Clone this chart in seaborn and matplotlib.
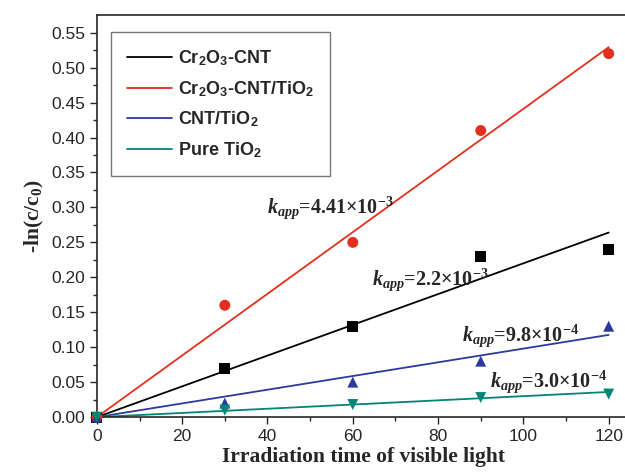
import matplotlib

matplotlib.use("Agg")
import matplotlib.pyplot as plt
import numpy as np
import pandas as pd
import seaborn as sns

# measured -ln(c/c0) values
TIMES = [0, 30, 60, 90, 120]
CR2O3_CNT = [0.0, 0.07, 0.13, 0.23, 0.24]
CR2O3_CNT_TIO2 = [0.0, 0.16, 0.25, 0.41, 0.52]
CNT_TIO2 = [0.0, 0.02, 0.05, 0.08, 0.13]
PURE_TIO2 = [0.0, 0.01, 0.018, 0.028, 0.033]

SERIES = ["Cr2O3-CNT", "Cr2O3-CNT/TiO2", "CNT/TiO2", "Pure TiO2"]
LEGEND_LABELS = [
    r"Cr$_\mathsf{2}$O$_\mathsf{3}$-CNT",
    r"Cr$_\mathsf{2}$O$_\mathsf{3}$-CNT/TiO$_\mathsf{2}$",
    r"CNT/TiO$_\mathsf{2}$",
    r"Pure TiO$_\mathsf{2}$",
]
K_APP = [2.2e-3, 4.41e-3, 9.8e-4, 3.0e-4]
K_TEXT = [
    r"$k_{app}$=2.2×10$^{-3}$",
    r"$k_{app}$=4.41×10$^{-3}$",
    r"$k_{app}$=9.8×10$^{-4}$",
    r"$k_{app}$=3.0×10$^{-4}$",
]
K_POS = [(64.5, 0.189), (39.8, 0.292), (85.5, 0.109), (92.1, 0.044)]
FIT_X = [0, 120]

COLORS = ["#000000", "#e2301f", "#2b3b9c", "#008577"]
MARKERS = ["s", "o", "^", "v"]

sns.set_style("ticks")
plt.rcParams["font.family"] = ["Liberation Sans", "DejaVu Sans"]
plt.rcParams["mathtext.fontset"] = "custom"
plt.rcParams["mathtext.rm"] = "Liberation Serif:bold"
plt.rcParams["mathtext.it"] = "Liberation Serif:italic:bold"
plt.rcParams["mathtext.bf"] = "Liberation Serif:bold"
plt.rcParams["mathtext.sf"] = "Liberation Sans:bold"

points = pd.DataFrame(
    {
        "time": TIMES * 4,
        "value": CR2O3_CNT + CR2O3_CNT_TIO2 + CNT_TIO2 + PURE_TIO2,
        "sample": [s for s in SERIES for _ in TIMES],
    }
)
fits = pd.DataFrame(
    {
        "time": FIT_X * 4,
        "value": [k * x for k in K_APP for x in FIT_X],
        "sample": [s for s in SERIES for _ in FIT_X],
    }
)

palette = dict(zip(SERIES, COLORS))
fig = plt.figure(figsize=(6.25, 4.74), dpi=100)
ax = fig.add_axes([0.155, 0.120, 0.853, 0.848])

sns.lineplot(
    data=fits, x="time", y="value", hue="sample", palette=palette,
    hue_order=SERIES, linewidth=1.3, ax=ax,
)
sns.scatterplot(
    data=points, x="time", y="value", hue="sample", style="sample",
    palette=palette, hue_order=SERIES, markers=dict(zip(SERIES, MARKERS)),
    s=62, edgecolor="none", legend=False, ax=ax, zorder=3, clip_on=False,
)

handles, _ = ax.get_legend_handles_labels()
leg = ax.legend(
    handles[:4], LEGEND_LABELS, loc="upper left", bbox_to_anchor=(0.026, 0.958),
    frameon=True, fancybox=False, edgecolor="#555555", handlelength=2.5,
    handletextpad=0.3, prop={"weight": "bold", "size": 13}, borderpad=0.9,
    labelspacing=0.6, borderaxespad=0,
)
leg.get_frame().set_linewidth(1.0)

for text, (tx, ty) in zip(K_TEXT, K_POS):
    ax.text(
        tx, ty, text, fontsize=14.5, va="baseline", ha="left",
        family="Liberation Serif", fontweight="bold",
    )

ax.set_xlim(0, 125)
ax.set_ylim(0, 0.575)
ax.set_xticks(np.arange(0, 121, 20))
ax.set_xticks(np.arange(10, 121, 20), minor=True)
ax.set_yticks(np.arange(0, 0.56, 0.05))
ax.set_yticks(np.arange(0.025, 0.56, 0.05), minor=True)
ax.yaxis.set_major_formatter(matplotlib.ticker.FormatStrFormatter("%.2f"))
ax.tick_params(which="major", length=5, width=1, labelsize=12.5)
ax.tick_params(which="minor", length=3, width=1)
for side in ["left", "bottom", "top", "right"]:
    ax.spines[side].set_linewidth(1.2)
    ax.spines[side].set_visible(True)

ax.set_xlabel(
    "Irradiation time of visible light", family="Liberation Serif",
    fontweight="bold", fontsize=15.5, labelpad=2,
)
ax.set_ylabel(r"-ln(c/c$_\mathrm{0}$)", family="Liberation Serif", fontweight="bold", fontsize=15.5, labelpad=4)

fig.savefig("out.png", dpi=100)
